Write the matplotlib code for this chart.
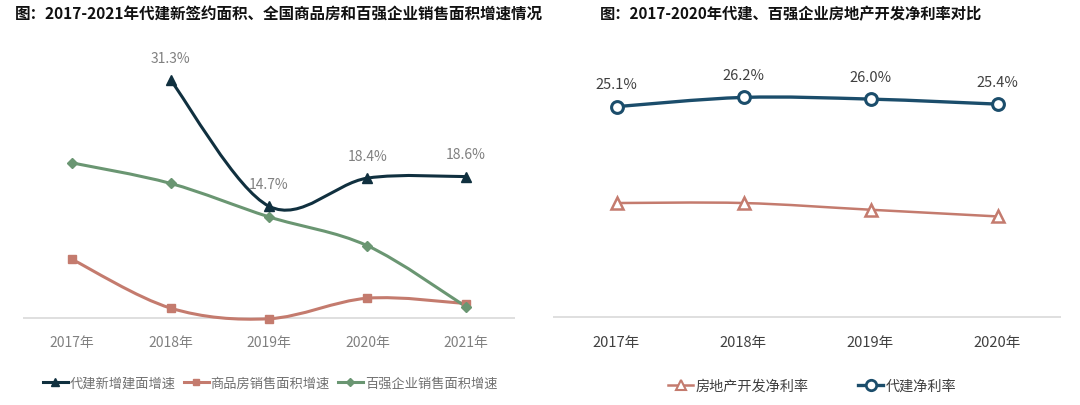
import matplotlib
matplotlib.use("Agg")
import matplotlib.pyplot as plt
from matplotlib.path import Path
from matplotlib.patches import PathPatch
from matplotlib.lines import Line2D

plt.rcParams['font.family'] = ['Noto Sans CJK SC', 'DejaVu Sans']

# left chart data (%)
years_l = ['2017年', '2018年', '2019年', '2020年', '2021年']
daijian_area = [31.3, 14.7, 18.4, 18.6]          # from 2018
daijian_years = [1, 2, 3, 4]
spf_area = [7.7, 1.3, -0.1, 2.6, 1.9]
top100_area = [20.4, 17.7, 13.3, 9.5, 1.5]

# right chart data (%)
years_r = ['2017年', '2018年', '2019年', '2020年']
dev_margin = [13.6, 13.6, 12.8, 12.0]
daijian_margin = [25.1, 26.2, 26.0, 25.4]

C_DARK = '#10303f'
C_SALMON = '#c47b6e'
C_GREEN = '#6a9672'
C_BLUE = '#1b4d6b'
C_AXIS = '#d9d9d9'
LIGHT = 'light'


def smooth(ax, xs, ys, color, lw):
    # excel-like smoothed line: catmull-rom as cubic bezier segments
    n = len(xs)
    verts = [(xs[0], ys[0])]
    codes = [Path.MOVETO]
    for i in range(n - 1):
        i0 = max(i - 1, 0)
        i3 = min(i + 2, n - 1)
        c1 = (xs[i] + (xs[i + 1] - xs[i0]) / 6, ys[i] + (ys[i + 1] - ys[i0]) / 6)
        c2 = (xs[i + 1] - (xs[i3] - xs[i]) / 6, ys[i + 1] - (ys[i3] - ys[i]) / 6)
        verts += [c1, c2, (xs[i + 1], ys[i + 1])]
        codes += [Path.CURVE4] * 3
    ax.add_patch(PathPatch(Path(verts, codes), fill=False, edgecolor=color,
                           lw=lw, capstyle='round', joinstyle='round', zorder=2))


fig = plt.figure(figsize=(10.8, 4.06), dpi=100)

# ---------- left ----------
ax1 = fig.add_axes([23 / 1080, 76 / 406, 492 / 1080, 290 / 406])
ax1.set_xlim(-0.5, 4.5)
ax1.set_ylim(-1.45, 36.7)
ax1.axhline(0, color=C_AXIS, lw=1.2, zorder=1)

xl = list(range(len(years_l)))
smooth(ax1, xl, spf_area, C_SALMON, 2.2)
smooth(ax1, xl, top100_area, C_GREEN, 2.2)
smooth(ax1, daijian_years, daijian_area, C_DARK, 2.2)
ax1.plot(xl, spf_area, 's', color=C_SALMON, ms=5.5, zorder=3)
ax1.plot(xl, top100_area, 'D', color=C_GREEN, ms=5, zorder=3)
ax1.plot(daijian_years, daijian_area, '^', color=C_DARK, ms=7, zorder=3)
for x, v in zip(daijian_years, daijian_area):
    ax1.annotate('%.1f%%' % v, (x, v), xytext=(0, 16), textcoords='offset points',
                 ha='center', va='center', fontsize=10, color='#808080',
                 fontweight=LIGHT)

ax1.set_xticks(xl)
ax1.set_xticklabels(years_l, fontsize=10, color='#808080', fontweight=LIGHT)
ax1.tick_params(axis='x', length=0, pad=4)
ax1.set_yticks([])
for s in ax1.spines.values():
    s.set_visible(False)

h1 = [Line2D([], [], color=C_DARK, lw=2.2, marker='^', ms=6),
      Line2D([], [], color=C_SALMON, lw=2.2, marker='s', ms=5),
      Line2D([], [], color=C_GREEN, lw=2.2, marker='D', ms=4.5)]
fig.legend(h1, ['代建新增建面增速', '商品房销售面积增速', '百强企业销售面积增速'],
           loc='center', bbox_to_anchor=(270 / 1080, 22 / 406), ncol=3, frameon=False,
           prop={'size': 9.5, 'weight': LIGHT}, handlelength=1.9, handletextpad=0.15,
           columnspacing=0.6, labelcolor='#707070')

fig.text(15 / 1080, 1 - 14 / 406, '图：2017-2021年代建新签约面积、全国商品房和百强企业销售面积增速情况',
         fontsize=11.2, fontweight='bold', ha='left', va='center', color='#111111')

# ---------- right ----------
ax2 = fig.add_axes([553 / 1080, 76 / 406, 508 / 1080, 290 / 406])
ax2.set_xlim(-0.5, 3.5)
ax2.set_ylim(-1.43, 33.17)
ax2.axhline(0, color=C_AXIS, lw=1.2, zorder=1)

xr = list(range(len(years_r)))
smooth(ax2, xr, dev_margin, C_SALMON, 1.8)
smooth(ax2, xr, daijian_margin, C_BLUE, 2.4)
ax2.plot(xr, dev_margin, '^', color=C_SALMON, mfc='white', mew=1.8, ms=8, zorder=3)
ax2.plot(xr, daijian_margin, 'o', color=C_BLUE, mfc='white', mew=2.2, ms=8.5, zorder=3)
for x, v in zip(xr, daijian_margin):
    ax2.annotate('%.1f%%' % v, (x, v), xytext=(0, 16), textcoords='offset points',
                 ha='center', va='center', fontsize=10.5, color='#404040',
                 fontweight=LIGHT)

ax2.set_xticks(xr)
ax2.set_xticklabels(years_r, fontsize=10.5, color='#404040', fontweight=LIGHT)
ax2.tick_params(axis='x', length=0, pad=4)
ax2.set_yticks([])
for s in ax2.spines.values():
    s.set_visible(False)

h2 = [Line2D([], [], color=C_SALMON, lw=1.8, marker='^', mfc='white', mew=1.5, ms=7),
      Line2D([], [], color=C_BLUE, lw=2.4, marker='o', mfc='white', mew=2, ms=7.5)]
fig.legend(h2, ['房地产开发净利率', '代建净利率'],
           loc='center', bbox_to_anchor=(812 / 1080, 19 / 406), ncol=2, frameon=False,
           prop={'size': 10.2, 'weight': LIGHT}, handlelength=1.8, handletextpad=0.15,
           columnspacing=3.5, labelcolor='#404040')

fig.text(600 / 1080, 1 - 14 / 406, '图：2017-2020年代建、百强企业房地产开发净利率对比',
         fontsize=11, fontweight='bold', ha='left', va='center', color='#111111')

fig.savefig('out.png', dpi=100, facecolor='white')
